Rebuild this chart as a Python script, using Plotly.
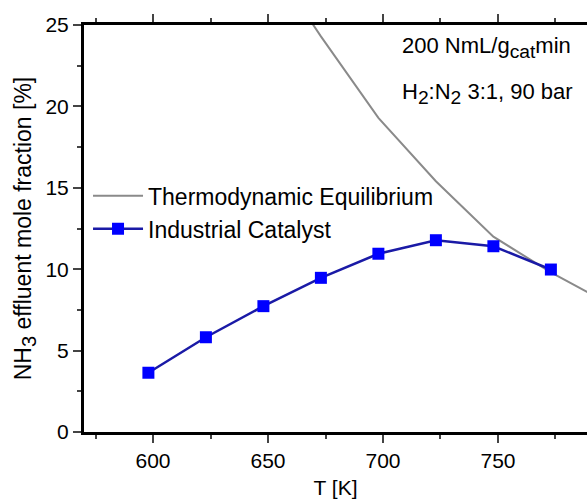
import plotly.graph_objects as go

# Data
T_cat = [598, 623, 648, 673, 698, 723, 748, 773]
y_cat = [3.64, 5.82, 7.73, 9.47, 10.95, 11.78, 11.41, 9.98]

T_eq = [648, 673, 698, 723, 748, 773, 798]
y_eq = [29.6, 24.3, 19.3, 15.4, 12.0, 9.8, 7.9]

FONT = "Liberation Sans, Arial, sans-serif"
SUB = '<sub><span style="font-size:125%">{}</span></sub>'

fig = go.Figure()
fig.add_trace(go.Scatter(
    x=T_eq, y=y_eq, mode="lines", name="Thermodynamic Equilibrium",
    line=dict(color="#8a8a8a", width=2),
))
fig.add_trace(go.Scatter(
    x=T_cat, y=y_cat, mode="lines+markers", name="Industrial Catalyst",
    line=dict(color="#1a1aa6", width=2.5),
    marker=dict(symbol="square", size=12, color="#0000ff"),
))

fig.update_layout(
    width=587, height=502,
    margin=dict(l=84, r=0, t=25, b=70),
    paper_bgcolor="white", plot_bgcolor="white",
    font=dict(family=FONT, size=21, color="black"),
    showlegend=True,
    legend=dict(x=0.008, y=0.633, xanchor="left", yanchor="top",
                bgcolor="rgba(0,0,0,0)", font=dict(size=23),
                tracegroupgap=0, itemwidth=50),
    xaxis=dict(
        range=[570, 788.7], title=dict(text="T [K]", font=dict(size=21), standoff=10),
        tickvals=[600, 650, 700, 750], ticks="outside", ticklen=8, tickwidth=2,
        tickfont=dict(size=21),
        showline=True, linecolor="black", linewidth=3, mirror="ticks",
        showgrid=False, zeroline=False,
        minor=dict(tickvals=[575, 625, 675, 725, 775], ticks="outside", ticklen=4, tickwidth=2),
    ),
    yaxis=dict(
        range=[0, 25],
        title=dict(text="NH" + SUB.format("3") + " effluent mole fraction [%]",
                   font=dict(size=23), standoff=8),
        tickvals=[0, 5, 10, 15, 20, 25], ticks="outside", ticklen=8, tickwidth=2,
        tickfont=dict(size=21),
        showline=True, linecolor="black", linewidth=3, mirror=False,
        showgrid=False, zeroline=False,
        minor=dict(tickvals=[2.5, 7.5, 12.5, 17.5, 22.5], ticks="outside", ticklen=4, tickwidth=2),
    ),
    annotations=[
        dict(text="200 NmL/g" + SUB.format("cat") + "min", xref="paper", yref="paper",
             x=(400 - 84) / 503, y=(432.5 - 48) / 407.5, xanchor="left", yanchor="middle",
             showarrow=False, font=dict(size=22)),
        dict(text="H" + SUB.format("2") + ":N" + SUB.format("2") + " 3:1, 90 bar",
             xref="paper", yref="paper",
             x=(400 - 84) / 503, y=(432.5 - 94) / 407.5, xanchor="left", yanchor="middle",
             showarrow=False, font=dict(size=22)),
    ],
)

fig.write_html("out.html")
